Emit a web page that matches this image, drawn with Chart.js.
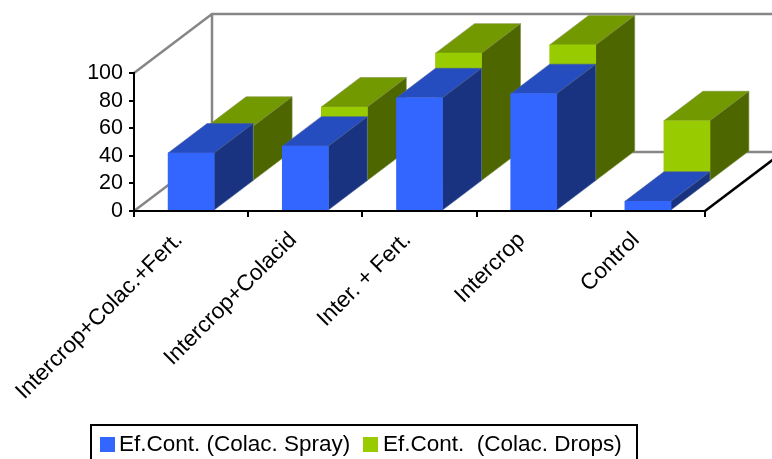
<!DOCTYPE html>
<html>
<head>
<meta charset="utf-8">
<script src="https://cdn.jsdelivr.net/npm/chart.js@4"></script>
<style>
  html, body { margin: 0; padding: 0; background: #fff; overflow: hidden; }
  canvas { display: block; }
</style>
</head>
<body>
<canvas id="myChart" width="772" height="459"></canvas>
<script>
var categories = ['Intercrop+Colac.+Fert.', 'Intercrop+Colacid', 'Inter. + Fert.', 'Intercrop', 'Control'];
var sprayValues = [42, 47, 82, 85, 7];
var dropsValues = [40, 54, 93, 99, 44];
var yTicks = [0, 20, 40, 60, 80, 100];

var FONT = '"Liberation Sans", Arial, sans-serif';
var depthX = 39;
var depthY = -29.5;

// fake 3d: side and top faces are added to the bars chart.js draws,
// the second series sits one depth step behind the first
var bars3d = {
    id: 'bars3d',
    beforeDatasetsDraw: function (chart) {
        var a = chart.chartArea;
        var ctx = chart.ctx;
        var dx = depthX * 2, dy = depthY * 2;
        ctx.save();
        ctx.strokeStyle = '#868686';
        ctx.lineWidth = 2.5;
        ctx.beginPath();
        ctx.moveTo(a.left, a.top);
        ctx.lineTo(a.left + dx, a.top + dy);
        ctx.lineTo(a.right + dx, a.top + dy);
        ctx.moveTo(a.left + dx, a.top + dy);
        ctx.lineTo(a.left + dx, a.bottom + dy);
        ctx.lineTo(a.right + dx, a.bottom + dy);
        ctx.moveTo(a.left, a.bottom);
        ctx.lineTo(a.left + dx, a.bottom + dy);
        ctx.stroke();
        ctx.strokeStyle = '#000';
        ctx.beginPath();
        ctx.moveTo(a.right, a.bottom);
        ctx.lineTo(a.right + dx, a.bottom + dy);
        ctx.stroke();
        ctx.restore();
    },
    beforeDatasetDraw: function (chart, args) {
        var ctx = chart.ctx;
        var ds = chart.data.datasets[args.index];
        ctx.save();
        if (args.index == 1) {
            ctx.translate(depthX, depthY);
        }
        args.meta.data.forEach(function (bar) {
            var l = bar.x - bar.width / 2;
            var r = bar.x + bar.width / 2;
            // top
            ctx.fillStyle = ds.topColor;
            ctx.strokeStyle = ds.edgeColor;
            ctx.lineWidth = 0.6;
            ctx.beginPath();
            ctx.moveTo(l, bar.y);
            ctx.lineTo(l + depthX, bar.y + depthY);
            ctx.lineTo(r + depthX, bar.y + depthY);
            ctx.lineTo(r, bar.y);
            ctx.closePath();
            ctx.fill();
            ctx.stroke();
            // side
            ctx.fillStyle = ds.sideColor;
            ctx.beginPath();
            ctx.moveTo(r, bar.y);
            ctx.lineTo(r + depthX, bar.y + depthY);
            ctx.lineTo(r + depthX, bar.base + depthY);
            ctx.lineTo(r, bar.base);
            ctx.closePath();
            ctx.fill();
            ctx.stroke();
        });
    },
    afterDatasetDraw: function (chart) {
        chart.ctx.restore();
    },
    afterDraw: function (chart) {
        var ctx = chart.ctx;
        ctx.save();
        ctx.strokeStyle = '#000';
        ctx.lineWidth = 2;
        ctx.strokeRect(91, 425, 546, 50);
        ctx.font = '22.5px ' + FONT;
        ctx.textBaseline = 'middle';
        var swatchX = [100, 363];
        var textX = [119, 383];
        chart.data.datasets.forEach(function (ds, i) {
            ctx.fillStyle = ds.backgroundColor;
            ctx.fillRect(swatchX[i], 437, 15, 15);
            ctx.fillStyle = '#000';
            ctx.fillText(ds.label, textX[i], 445);
        });
        ctx.restore();
    }
};

var ctx = document.getElementById('myChart').getContext('2d');
var myChart = new Chart(ctx, {
    type: 'bar',
    data: {
        labels: categories,
        datasets: [{
            label: 'Ef.Cont. (Colac. Spray)',
            data: sprayValues,
            backgroundColor: '#3366FF',
            topColor: '#264DBF',
            sideColor: '#1A3380',
            edgeColor: '#4a5f9c',
            clip: false
        }, {
            label: 'Ef.Cont.  (Colac. Drops)',
            data: dropsValues,
            backgroundColor: '#99CC00',
            topColor: '#739900',
            sideColor: '#4D6600',
            edgeColor: '#7d9040',
            clip: false
        }]
    },
    plugins: [bars3d],
    options: {
        responsive: false,
        animation: false,
        grouped: false,
        barThickness: 46,
        layout: { padding: { top: 73, right: 67, left: 0, bottom: 0 } },
        plugins: {
            legend: { display: false },
            tooltip: { enabled: false }
        },
        scales: {
            x: {
                afterFit: function (s) { s.height = 248; },
                grid: { drawOnChartArea: false, color: '#000', lineWidth: 2, tickLength: 6, z: 1 },
                border: { color: '#000', width: 2, z: 1 },
                ticks: {
                    autoSkip: false,
                    minRotation: 45,
                    maxRotation: 45,
                    padding: 10,
                    labelOffset: -12,
                    color: '#000',
                    font: { family: FONT, size: 22.5 }
                }
            },
            y: {
                min: 0,
                max: 100,
                afterFit: function (s) { s.width = 134; },
                afterBuildTicks: function (s) {
                    s.ticks = yTicks.map(function (v) { return { value: v }; });
                },
                grid: { drawOnChartArea: false, color: '#000', lineWidth: 2, tickLength: 5, z: 1 },
                border: { color: '#000', width: 2, z: 1 },
                ticks: {
                    autoSkip: false,
                    padding: 6,
                    color: '#000',
                    font: { family: FONT, size: 21.5 }
                }
            }
        }
    }
});
</script>
</body>
</html>
